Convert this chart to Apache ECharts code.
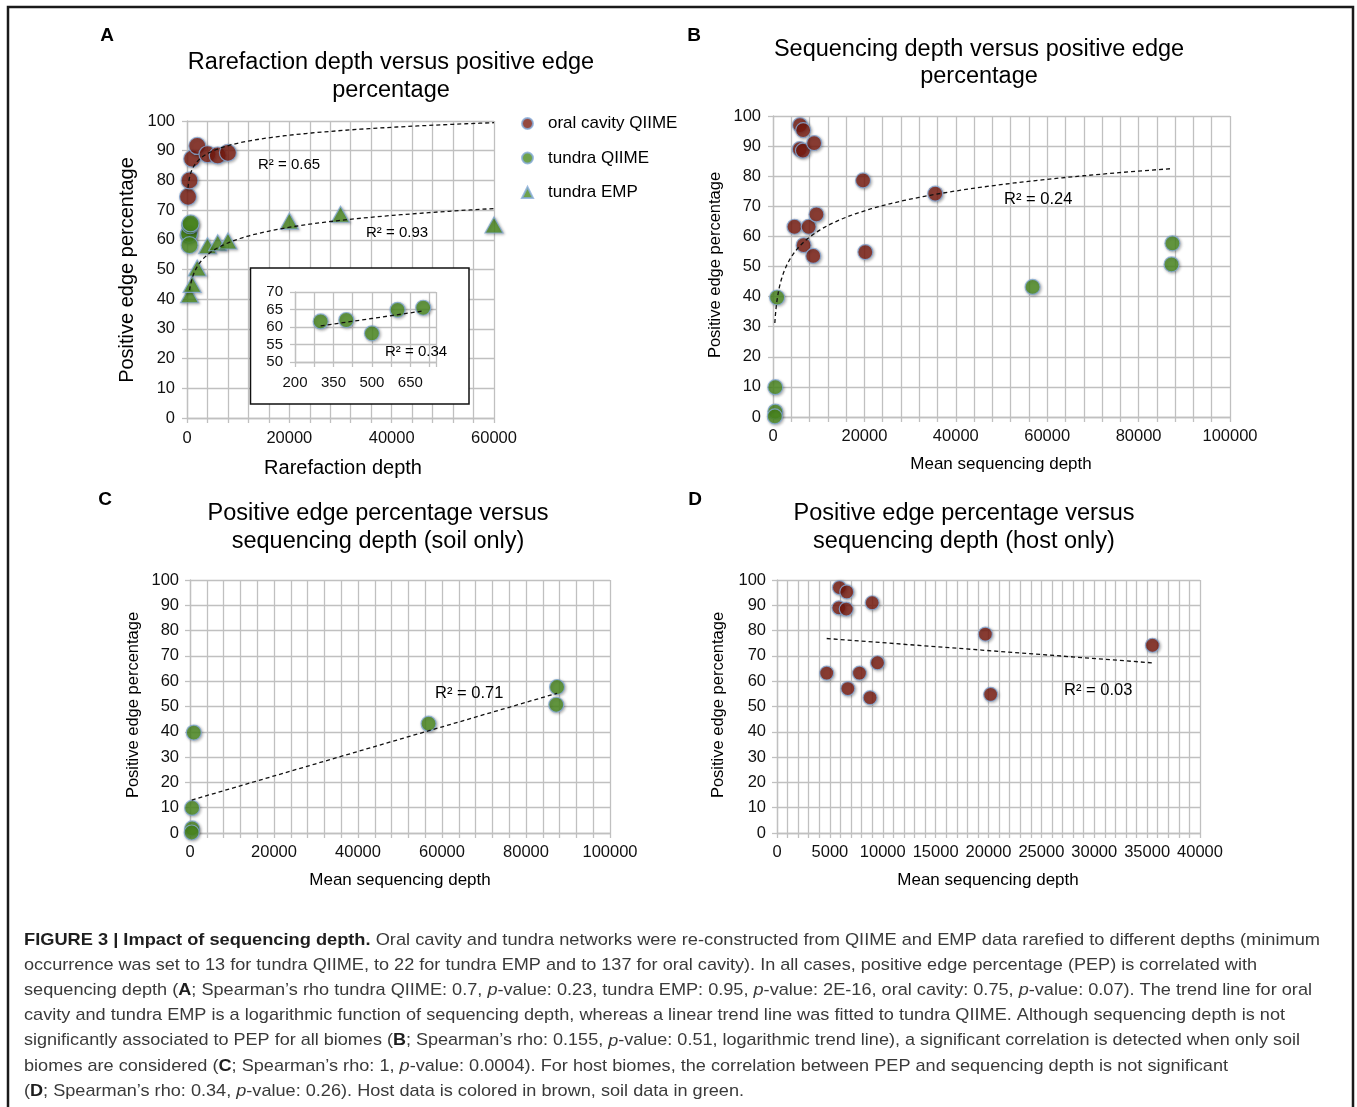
<!DOCTYPE html>
<html><head><meta charset="utf-8">
<script src="https://cdn.jsdelivr.net/npm/echarts@6/dist/echarts.min.js"></script>
<style>html,body{margin:0;padding:0;background:#fff}#c{width:1357px;height:1107px}</style>
</head><body><div id="c"></div>
<script>
// ---------------- DATA ----------------
// Panel A (rarefaction depth)
const oralX = [200, 500, 1000, 2000, 4000, 6000, 8000];
const oralY = [74.5, 80, 87.3, 91.6, 88.8, 88.4, 89.3];
const tundraQX = [300, 400, 500, 600, 700];
const tundraQY = [61.6, 62, 58.2, 64.9, 65.5];
const tundraEmpX = [500, 1000, 2000, 4000, 6000, 8000, 20000, 30000, 60000];
const tundraEmpY = [41.5, 45, 50.5, 58, 59, 59.6, 66.3, 68.6, 65];
// Panels B-D (mean sequencing depth)
const hostX = [5900, 6600, 5850, 6550, 9000, 19700, 35500, 4700, 7800, 9500, 6700, 8800, 20200];
const hostY = [97, 95.3, 89, 88.5, 91, 78.6, 74.2, 63.2, 63.2, 67.3, 57.1, 53.5, 54.8];
const soilX = [900, 500, 500, 400, 56800, 87400, 87200];
const soilY = [39.7, 9.9, 1.8, 0.2, 43.2, 57.7, 50.7];
// Tick labels
const pepTicks = [0, 10, 20, 30, 40, 50, 60, 70, 80, 90, 100];
const aXTicks = [0, 20000, 40000, 60000];
const insetXTicks = [200, 350, 500, 650];
const insetYTicks = [50, 55, 60, 65, 70];
const seqTicks = [0, 20000, 40000, 60000, 80000, 100000];
const hostTicks = [0, 5000, 10000, 15000, 20000, 25000, 30000, 35000, 40000];
const r2Labels = {a1: 'R² = 0.65', a2: 'R² = 0.93', inset: 'R² = 0.34', b: 'R² = 0.24', c: 'R² = 0.71', d: 'R² = 0.03'};

// ---------------- HELPERS ----------------
const FONT = '"Liberation Sans", Arial, Helvetica, sans-serif';
const BROWN = '#7b1b10', GREEN = '#4b8b1f', EDGE = '#86abd9', GRIDC = '#c0c0c0';
const zip = (xs, ys) => xs.map((x, i) => [x, ys[i]]);

function linFit(xs, ys) {
  const n = xs.length, mx = xs.reduce((a, b) => a + b, 0) / n, my = ys.reduce((a, b) => a + b, 0) / n;
  let sxy = 0, sxx = 0;
  xs.forEach((x, i) => { sxy += (x - mx) * (ys[i] - my); sxx += (x - mx) * (x - mx); });
  const a = sxy / sxx; return {f: x => a * x + (my - a * mx)};
}
function logFit(xs, ys) {
  const lf = linFit(xs.map(Math.log), ys); return {f: x => lf.f(Math.log(x))};
}
function curve(fit, x0, x1, n) {
  const pts = [];
  for (let i = 0; i <= n; i++) { const x = x0 * Math.pow(x1 / x0, i / n); pts.push([x, fit.f(x)]); }
  return pts;
}
const minOf = a => Math.min(...a), maxOf = a => Math.max(...a);

function axis(gi, min, max, interval, ticks, fs, margin, z) {
  return {
    type: 'value', gridIndex: gi, min, max, interval, z: z || 0,
    axisLine: {show: true, onZero: false, lineStyle: {color: GRIDC, width: 1.3}},
    axisTick: {show: true, length: 5, lineStyle: {color: GRIDC, width: 1.3}},
    splitLine: {show: true, lineStyle: {color: GRIDC, width: 1.3}},
    axisLabel: {color: '#111', fontSize: fs, fontFamily: FONT, margin: margin,
      showMaxLabel: true, showMinLabel: true,
      formatter: v => ticks.indexOf(v) >= 0 ? String(v) : ''}
  };
}
const shadow = {shadowBlur: 3, shadowColor: 'rgba(0,0,0,0.35)', shadowOffsetX: 1, shadowOffsetY: 1};
function scatter(name, xi, data, color, size, symbol, z) {
  return {type: 'scatter', name, xAxisIndex: xi, yAxisIndex: xi, data, symbol: symbol || 'circle', symbolSize: size,
    z: z || 2, itemStyle: Object.assign({color, borderColor: EDGE, borderWidth: 1.2}, shadow), silent: true};
}
function trend(xi, data, z) {
  return {type: 'line', xAxisIndex: xi, yAxisIndex: xi, data, showSymbol: false, symbol: 'none', z: z || 5, silent: true,
    lineStyle: {color: '#111', width: 1.3, type: [4, 3]}};
}
function txt(x, y, s, fs, opt) {
  opt = opt || {};
  return {type: 'text', x, y, rotation: opt.rot || 0, z: 100,
    style: {text: s, fontSize: fs, fontFamily: FONT, fontWeight: opt.bold ? 'bold' : 'normal', fill: opt.color || '#000',
      textAlign: opt.align || 'center', textVerticalAlign: 'middle'}};
}

// ---------------- CAPTION ----------------
const captionLines = [
  [['b', 'FIGURE 3 | Impact of sequencing depth.'], ['n', ' Oral cavity and tundra networks were re-constructed from QIIME and EMP data rarefied to different depths (minimum']],
  [['n', 'occurrence was set to 13 for tundra QIIME, to 22 for tundra EMP and to 137 for oral cavity). In all cases, positive edge percentage (PEP) is correlated with']],
  [['n', 'sequencing depth ('], ['b', 'A'], ['n', '; Spearman’s rho tundra QIIME: 0.7, '], ['i', 'p'], ['n', '-value: 0.23, tundra EMP: 0.95, '], ['i', 'p'], ['n', '-value: 2E-16, oral cavity: 0.75, '], ['i', 'p'], ['n', '-value: 0.07). The trend line for oral']],
  [['n', 'cavity and tundra EMP is a logarithmic function of sequencing depth, whereas a linear trend line was fitted to tundra QIIME. Although sequencing depth is not']],
  [['n', 'significantly associated to PEP for all biomes ('], ['b', 'B'], ['n', '; Spearman’s rho: 0.155, '], ['i', 'p'], ['n', '-value: 0.51, logarithmic trend line), a significant correlation is detected when only soil']],
  [['n', 'biomes are considered ('], ['b', 'C'], ['n', '; Spearman’s rho: 1, '], ['i', 'p'], ['n', '-value: 0.0004). For host biomes, the correlation between PEP and sequencing depth is not significant']],
  [['n', '('], ['b', 'D'], ['n', '; Spearman’s rho: 0.34, '], ['i', 'p'], ['n', '-value: 0.26). Host data is colored in brown, soil data in green.']]
];
const captionWidths = [1296, 1233, 1288, 1261, 1276, 1204, 720];
const CAP_FS = 17;
const capCanvas = document.createElement('canvas').getContext('2d');
const capFont = {n: `normal normal ${CAP_FS}px ${FONT}`, b: `normal bold ${CAP_FS}px ${FONT}`, i: `italic normal ${CAP_FS}px ${FONT}`};
const capRich = {
  n: {fontFamily: FONT, fontSize: CAP_FS, fill: '#3a3a3a', color: '#3a3a3a'},
  b: {fontFamily: FONT, fontSize: CAP_FS, fontWeight: 'bold', fill: '#1e1e1e', color: '#1e1e1e'},
  i: {fontFamily: FONT, fontSize: CAP_FS, fontStyle: 'italic', fill: '#3a3a3a', color: '#3a3a3a'}
};
const captionGraphics = captionLines.map((segs, k) => {
  let w = 0;
  segs.forEach(([s, t]) => { capCanvas.font = capFont[s]; w += capCanvas.measureText(t).width; });
  return {type: 'text', x: 24, y: 940 + k * 25.2, scaleX: captionWidths[k] / w, z: 100,
    style: {text: segs.map(([s, t]) => `{${s}|${t}}`).join(''), rich: capRich, textVerticalAlign: 'middle', textAlign: 'left'}};
});

// ---------------- OPTION ----------------
const TFS = 23.5;
const option = {
  animation: false,
  backgroundColor: '#fff',
  grid: [
    {left: 187, top: 121, width: 307, height: 297},
    {left: 295, top: 292, width: 141, height: 70},
    {left: 773, top: 116, width: 457, height: 301},
    {left: 190, top: 580, width: 420, height: 253},
    {left: 777, top: 580, width: 423, height: 253}
  ],
  xAxis: [
    axis(0, 0, 60000, 4000, aXTicks, 16.5, 12),
    axis(1, 200, 750, 75, insetXTicks, 15, 13, 2),
    axis(2, 0, 100000, 4000, seqTicks, 16.5, 11),
    axis(3, 0, 100000, 4000, seqTicks, 16.5, 11),
    axis(4, 0, 40000, 1000, hostTicks, 16.5, 11)
  ],
  yAxis: [
    axis(0, 0, 100, 10, pepTicks, 16.5, 12),
    axis(1, 50, 70, 5, insetYTicks, 15, 12, 2),
    axis(2, 0, 100, 10, pepTicks, 16.5, 12),
    axis(3, 0, 100, 10, pepTicks, 16.5, 11),
    axis(4, 0, 100, 10, pepTicks, 16.5, 11)
  ],
  legend: {
    left: 516, top: 109, orient: 'vertical', itemGap: 15.5, itemWidth: 11, itemHeight: 11, selectedMode: false,
    textStyle: {fontFamily: FONT, fontSize: 17, color: '#000', padding: [0, 0, 0, 10], lineHeight: 19},
    data: [{name: 'oral cavity QIIME', icon: 'circle'}, {name: 'tundra QIIME', icon: 'circle'}, {name: 'tundra EMP', icon: 'triangle'}]
  },
  series: [
    // Panel A
    scatter('oral cavity QIIME', 0, zip(oralX, oralY), BROWN, 17),
    scatter('tundra QIIME', 0, zip(tundraQX, tundraQY), GREEN, 17),
    scatter('tundra EMP', 0, zip(tundraEmpX, tundraEmpY), GREEN, [18, 16], 'triangle'),
    trend(0, curve(logFit(oralX, oralY), minOf(oralX), 60000, 120)),
    trend(0, curve(logFit(tundraEmpX, tundraEmpY), minOf(tundraEmpX), maxOf(tundraEmpX), 120)),
    // Inset
    scatter('inset tundra QIIME', 1, zip(tundraQX, tundraQY), GREEN, 15, 'circle', 3),
    trend(1, curve(linFit(tundraQX, tundraQY), minOf(tundraQX), maxOf(tundraQX), 10), 6),
    // Panel B
    scatter('B host', 2, zip(hostX, hostY), BROWN, 15),
    scatter('B soil', 2, zip(soilX, soilY), GREEN, 15),
    trend(2, curve(logFit(hostX.concat(soilX), hostY.concat(soilY)), minOf(soilX.concat(hostX)), maxOf(soilX.concat(hostX)), 150)),
    // Panel C
    scatter('C soil', 3, zip(soilX, soilY), GREEN, 15),
    trend(3, curve(linFit(soilX, soilY), minOf(soilX), maxOf(soilX), 10)),
    // Panel D
    scatter('D host', 4, zip(hostX, hostY), BROWN, 14),
    trend(4, curve(linFit(hostX, hostY), minOf(hostX), maxOf(hostX), 10))
  ],
  graphic: [
    {type: 'rect', z: 101, shape: {x: 8, y: 7, width: 1345, height: 1112}, style: {fill: 'none', stroke: '#1a1a1a', lineWidth: 2.5}},
    {type: 'rect', z: 1, shape: {x: 250.5, y: 268, width: 218.5, height: 136}, style: {fill: '#fff', stroke: '#111', lineWidth: 1.5}},
    // Panel A texts
    txt(107, 36, 'A', 19, {bold: true}),
    txt(391, 63, 'Rarefaction depth versus positive edge', TFS),
    txt(391, 91, 'percentage', TFS),
    txt(343, 468, 'Rarefaction depth', 20),
    txt(127, 270, 'Positive edge percentage', 20, {rot: Math.PI / 2}),
    txt(258, 165, r2Labels.a1, 15, {align: 'left'}),
    txt(366, 233, r2Labels.a2, 15, {align: 'left'}),
    txt(385, 352, r2Labels.inset, 15, {align: 'left'}),
    // Panel B texts
    txt(694, 36, 'B', 19, {bold: true}),
    txt(979, 50, 'Sequencing depth versus positive edge', TFS),
    txt(979, 77, 'percentage', TFS),
    txt(1001, 464, 'Mean sequencing depth', 17),
    txt(715, 265, 'Positive edge percentage', 16.5, {rot: Math.PI / 2}),
    txt(1004, 199, r2Labels.b, 16.5, {align: 'left'}),
    // Panel C texts
    txt(105, 500, 'C', 19, {bold: true}),
    txt(378, 514, 'Positive edge percentage versus', TFS),
    txt(378, 542, 'sequencing depth (soil only)', TFS),
    txt(400, 880, 'Mean sequencing depth', 17),
    txt(133, 705, 'Positive edge percentage', 16.5, {rot: Math.PI / 2}),
    txt(435, 693, r2Labels.c, 16.5, {align: 'left'}),
    // Panel D texts
    txt(695, 500, 'D', 19, {bold: true}),
    txt(964, 514, 'Positive edge percentage versus', TFS),
    txt(964, 542, 'sequencing depth (host only)', TFS),
    txt(988, 880, 'Mean sequencing depth', 17),
    txt(718, 705, 'Positive edge percentage', 16.5, {rot: Math.PI / 2}),
    txt(1064, 690, r2Labels.d, 16.5, {align: 'left'})
  ].concat(captionGraphics)
};
const chart = echarts.init(document.getElementById('c'), null, {renderer: 'canvas'});
chart.setOption(option);
</script>
</body></html>
